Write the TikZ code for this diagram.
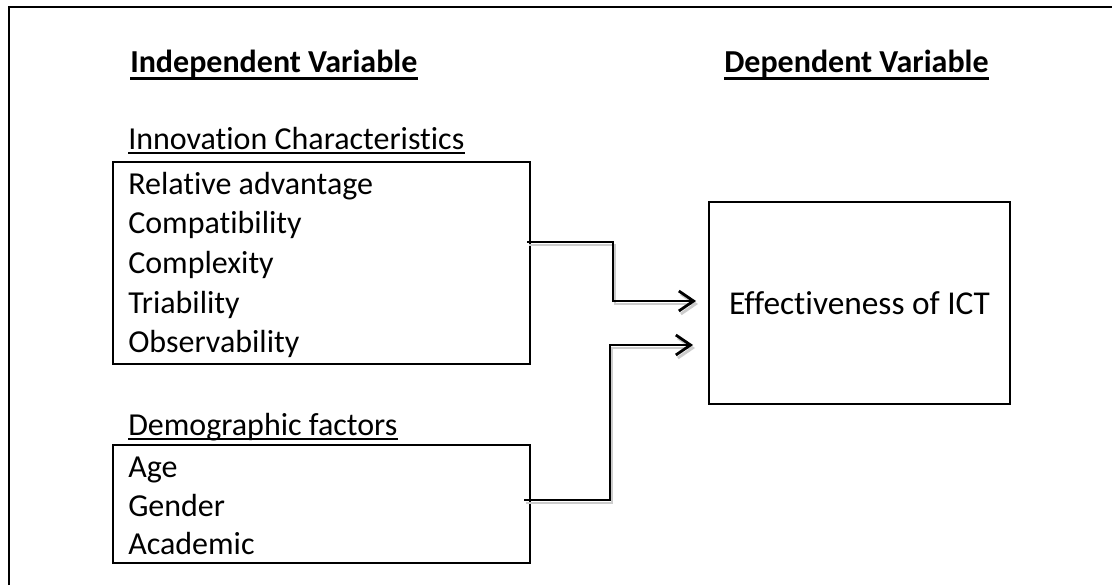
\documentclass[tikz,border=0pt]{standalone}
\usepackage{fontspec}
\setmainfont{Carlito}[Ligatures=NoCommon]
\usetikzlibrary{arrows.meta}
\begin{document}
\begin{tikzpicture}[x=0.75pt,y=-0.75pt,
  txt/.style={anchor=base west,inner sep=0pt,font=\fontsize{24}{28}\selectfont},
  head/.style={anchor=base west,inner sep=0pt,font=\fontsize{24}{28}\selectfont\bfseries},
  uline/.style={line width=1.3pt},
  hline/.style={line width=1.9pt},
  box/.style={draw,line width=1.9pt,rectangle,inner sep=0pt},
  conn/.style={line width=2.1pt,-{Straight Barb[length=11pt,width=15pt,line width=2.1pt]}},
  shade/.style={line width=2.1pt,draw=black!20,-{Straight Barb[length=11pt,width=15pt,line width=2.1pt]}}]
\useasboundingbox (0,0) rectangle (1112,585);
\fill[white] (0,0) rectangle (1112,585);
% outer frame
\draw[line width=2.2pt] (9,585) -- (9,7) -- (1112,7);
% headings
\node[head] (h1) at (130,73) {Independent Variable};
\node[head] (h2) at (724,73) {Dependent Variable};
\draw[hline] ([yshift=-4pt]h1.base west) -- ([yshift=-4pt]h1.base east);
\draw[hline] ([yshift=-4pt]h2.base west) -- ([yshift=-4pt]h2.base east);
% box 1
\node[txt] (t1) at (128,149) {Innovation Characteristics};
\draw[uline] ([yshift=-3.2pt]t1.base west) -- ([yshift=-3.2pt]t1.base east);
\node[box,minimum width=312.75pt,minimum height=151.5pt] (b1) at (321.5,263) {};
\node[txt] (i1) at (128,194) {Relative advantage};
\node[txt] (i2) at (128,233) {Compatibility};
\node[txt] (i3) at (128,273) {Complexity};
\node[txt] (i4) at (128,313) {Triability};
\node[txt] (i5) at (128,352) {Observability};
% box 2
\node[txt] (t2) at (128,435) {Demographic factors};
\draw[uline] ([yshift=-3.2pt]t2.base west) -- ([yshift=-3.2pt]t2.base east);
\node[box,minimum width=312.75pt,minimum height=88.5pt] (b2) at (321.5,504) {};
\node[txt] (d1) at (128,477) {Age};
\node[txt] (d2) at (128,516) {Gender};
\node[txt] (d3) at (128,554) {Academic};
% box 3
\node[box,minimum width=225.75pt,minimum height=151.5pt,font=\fontsize{25}{29}\selectfont] (b3) at (859.5,303) {Effectiveness of ICT};
% connector endpoints
\coordinate (s1) at (527,242);
\coordinate (e1) at (696,301);
\coordinate (s2) at (524,500);
\coordinate (e2) at (693,345);
% shadows
\draw[shade] ([shift={(2,3)}]s1) -- ++(86,0) |- ([shift={(2,3)}]e1);
\draw[shade] ([shift={(2,3)}]s2) -- ++(86,0) |- ([shift={(2,3)}]e2);
% connectors
\draw[conn] (s1) -- ++(86,0) |- (e1);
\draw[conn] (s2) -- ++(86,0) |- (e2);
\end{tikzpicture}
\end{document}
